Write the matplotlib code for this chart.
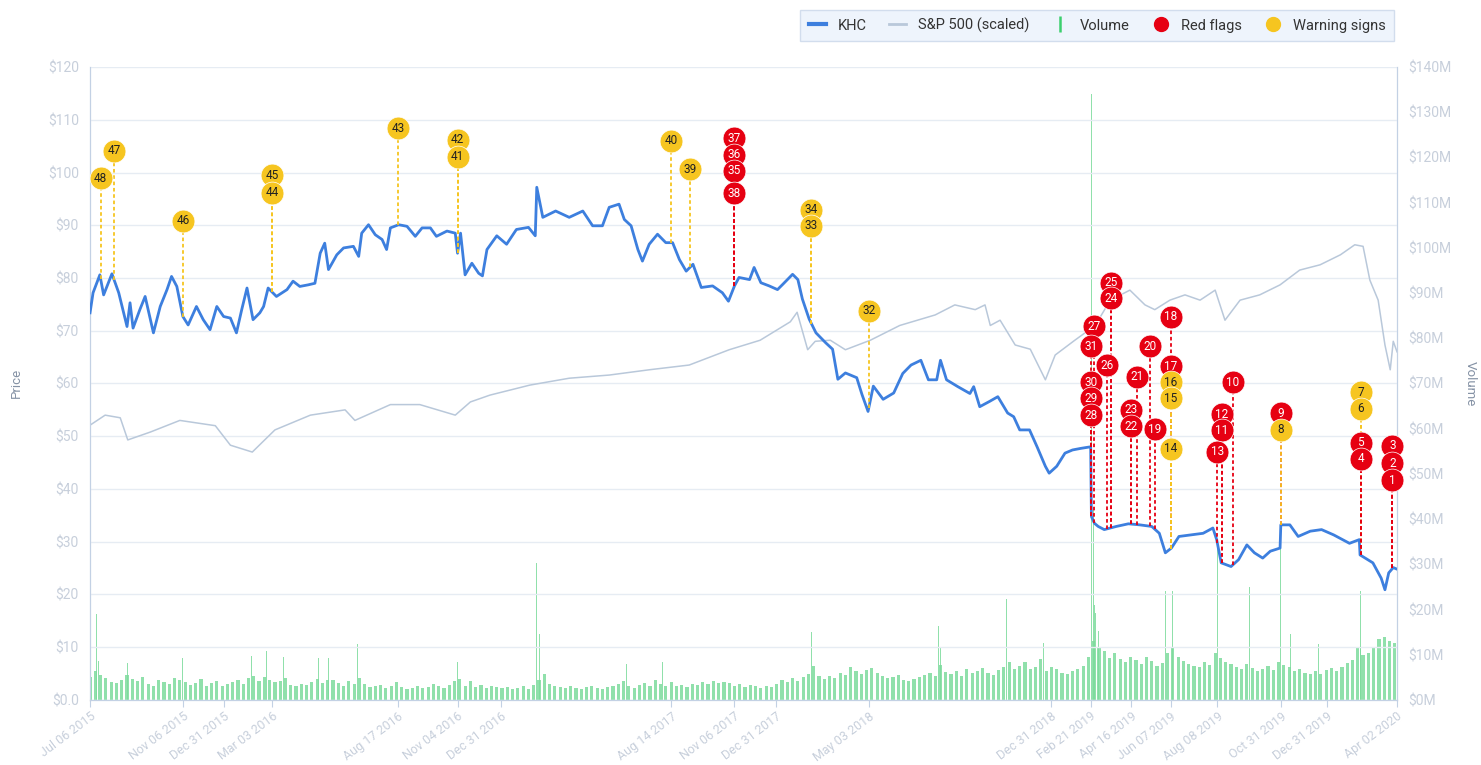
import matplotlib
matplotlib.use('Agg')
import matplotlib.pyplot as plt
import matplotlib.dates as mdates
from matplotlib.lines import Line2D
import numpy as np
import pandas as pd

plt.rcParams['font.family'] = ['Roboto', 'DejaVu Sans']

# KHC close price
khc_dates = ['2015-07-06', '2015-07-10', '2015-07-19', '2015-07-24', '2015-08-04', '2015-08-13', '2015-08-24', '2015-08-28',
             '2015-09-01', '2015-09-10', '2015-09-17', '2015-09-28', '2015-10-07', '2015-10-16', '2015-10-22', '2015-10-29',
             '2015-11-06', '2015-11-13', '2015-11-24', '2015-12-03', '2015-12-12', '2015-12-21', '2015-12-30',
             '2016-01-08', '2016-01-16', '2016-01-23', '2016-01-30', '2016-02-07', '2016-02-16', '2016-02-21', '2016-02-27',
             '2016-03-09', '2016-03-23', '2016-03-31', '2016-04-09', '2016-04-20', '2016-04-29', '2016-05-06', '2016-05-12',
             '2016-05-17', '2016-05-28', '2016-06-06', '2016-06-19', '2016-06-26', '2016-06-30', '2016-07-09', '2016-07-18',
             '2016-07-27', '2016-08-02', '2016-08-07', '2016-08-18', '2016-08-29', '2016-09-09', '2016-09-18', '2016-09-29',
             '2016-10-07', '2016-10-21', '2016-11-01', '2016-11-04', '2016-11-08', '2016-11-14', '2016-11-23', '2016-12-02',
             '2016-12-07', '2016-12-13', '2016-12-26',
             '2017-01-08', '2017-01-21', '2017-02-06', '2017-02-15', '2017-02-17', '2017-02-25', '2017-03-14', '2017-04-01',
             '2017-04-19', '2017-05-02', '2017-05-15', '2017-05-24', '2017-06-06', '2017-06-13', '2017-06-22', '2017-07-01',
             '2017-07-07', '2017-07-16', '2017-07-27', '2017-08-07', '2017-08-16', '2017-08-25', '2017-09-03', '2017-09-12',
             '2017-09-23', '2017-10-08', '2017-10-21', '2017-10-29', '2017-11-06', '2017-11-12', '2017-11-26', '2017-12-02',
             '2017-12-11', '2017-12-22',
             '2018-01-02', '2018-01-09', '2018-01-22', '2018-01-29', '2018-02-04', '2018-02-13', '2018-02-22', '2018-03-07',
             '2018-03-16', '2018-03-23', '2018-04-02', '2018-04-17', '2018-04-24', '2018-05-02', '2018-05-09', '2018-05-22',
             '2018-06-05', '2018-06-17', '2018-06-28', '2018-07-11', '2018-07-21', '2018-08-01', '2018-08-06', '2018-08-14',
             '2018-08-29', '2018-09-14', '2018-09-19', '2018-09-27', '2018-10-10', '2018-10-21', '2018-11-03', '2018-11-11',
             '2018-11-19', '2018-12-02', '2018-12-12', '2018-12-23', '2018-12-28',
             '2019-01-07', '2019-01-18', '2019-01-28', '2019-02-08', '2019-02-21', '2019-02-22', '2019-02-26', '2019-03-03',
             '2019-03-11', '2019-03-27', '2019-04-12', '2019-04-27', '2019-05-13', '2019-05-23', '2019-05-31', '2019-06-08',
             '2019-06-18', '2019-07-04', '2019-07-20', '2019-08-02', '2019-08-07', '2019-08-13', '2019-08-26', '2019-09-05',
             '2019-09-16', '2019-09-26', '2019-10-07', '2019-10-17', '2019-10-30', '2019-10-31', '2019-11-12', '2019-11-23',
             '2019-12-09', '2019-12-24',
             '2020-01-09', '2020-01-30', '2020-02-12', '2020-02-13', '2020-03-01', '2020-03-12', '2020-03-17', '2020-03-22',
             '2020-03-28', '2020-04-02']
khc_price = [73.4, 77.2, 80.6, 76.8, 80.8, 77.2, 70.8, 75.3,
             70.5, 74.0, 76.5, 69.6, 74.6, 77.8, 80.3, 78.4,
             72.7, 71.1, 74.6, 72.1, 70.2, 74.6, 72.7,
             72.4, 69.6, 74.0, 78.1, 72.1, 73.4, 74.6, 78.1,
             76.5, 77.8, 79.4, 78.4, 78.7, 79.0, 84.7, 86.6,
             81.6, 84.4, 85.7, 86.0, 84.1, 88.5, 90.1, 88.2,
             87.3, 85.4, 89.5, 90.1, 89.8, 87.9, 89.5, 89.5,
             87.9, 88.9, 88.5, 84.7, 88.5, 80.6, 82.8, 80.9,
             80.4, 85.4, 88.0,
             86.4, 89.2, 89.6, 88.0, 97.2, 91.5, 92.7, 91.5,
             92.7, 89.9, 89.9, 93.4, 94.0, 91.1, 89.9, 85.4,
             83.2, 86.4, 88.3, 86.7, 86.7, 83.5, 81.3, 82.6,
             78.2, 78.5, 77.2, 75.6, 78.5, 80.1, 79.7, 82.0,
             79.1, 78.5,
             77.8, 78.8, 80.7, 79.7, 76.0, 72.2, 69.6, 67.7,
             66.5, 60.8, 62.0, 61.1, 57.9, 54.7, 59.5, 57.0,
             58.2, 61.9, 63.5, 64.4, 60.7, 60.7, 64.4, 60.7,
             59.4, 58.1, 59.4, 55.6, 56.6, 57.5, 54.4, 53.7,
             51.2, 51.2, 48.0, 44.3, 43.0,
             44.3, 46.8, 47.4, 47.7, 48.0, 34.8, 33.5, 32.9,
             32.3, 32.9, 33.4, 33.2, 32.9, 31.6, 27.9, 28.8,
             31.0, 31.3, 31.6, 32.6, 30.4, 26.0, 25.3, 26.6,
             29.4, 27.9, 26.9, 28.2, 28.8, 33.2, 33.2, 31.0,
             32.0, 32.3,
             31.3, 29.7, 30.4, 27.5, 26.0, 23.1, 20.9, 24.1,
             25.1, 24.8]

# S&P 500, scaled onto the price axis
sp_dates = ['2015-07-06', '2015-07-26', '2015-08-15', '2015-08-25', '2015-09-24', '2015-11-02', '2015-12-19',
            '2016-01-08', '2016-02-06', '2016-03-07', '2016-04-23', '2016-06-08', '2016-06-21', '2016-08-07',
            '2016-09-15', '2016-11-01', '2016-11-21', '2016-12-17', '2017-02-08', '2017-04-01', '2017-05-24',
            '2017-07-16', '2017-09-07', '2017-10-30', '2017-12-10', '2018-01-19', '2018-01-28', '2018-02-11',
            '2018-02-21', '2018-03-13', '2018-04-02', '2018-05-05', '2018-06-13', '2018-07-30', '2018-08-25',
            '2018-09-21', '2018-10-04', '2018-10-11', '2018-10-24', '2018-11-13', '2018-12-03', '2018-12-23',
            '2019-01-05', '2019-01-31', '2019-02-27', '2019-03-19', '2019-04-14', '2019-05-04', '2019-05-17',
            '2019-06-06', '2019-06-26', '2019-07-16', '2019-08-05', '2019-08-18', '2019-09-07', '2019-10-03',
            '2019-10-30', '2019-11-25', '2019-12-22', '2020-01-18', '2020-02-06', '2020-02-17', '2020-02-26',
            '2020-03-08', '2020-03-17', '2020-03-24', '2020-03-28', '2020-04-02']
sp_price = [52.1, 54.0, 53.5, 49.3, 50.8, 53.0, 52.0,
            48.3, 47.0, 51.2, 54.0, 55.0, 53.0, 56.0,
            56.0, 54.0, 56.5, 57.8, 59.7, 61.0, 61.6,
            62.6, 63.5, 66.4, 68.2, 71.7, 73.5, 66.4,
            68.0, 68.2, 66.4, 68.2, 71.0, 73.0, 74.9,
            74.0, 74.9, 71.0, 72.0, 67.3, 66.5, 60.7,
            65.4, 68.2, 71.0, 75.8, 77.7, 74.9, 74.0,
            75.8, 76.8, 75.8, 77.7, 72.0, 75.8, 76.8,
            78.7, 81.5, 82.5, 84.4, 86.3, 86.0, 79.6,
            75.8, 67.3, 62.6, 68.0, 66.0]

# volume ($M): typical daily level each week, starting week of Jul 06 2015
vol_week = [5.0, 6.5, 5.5, 4.8, 4.0, 3.8, 4.5, 5.5, 4.6, 4.1, 5.0, 3.6, 3.2, 4.4, 3.9, 3.5, 4.8, 4.5, 4.0, 3.3,
            3.7, 4.6, 3.1, 3.8, 4.2, 3.0,
            3.5, 3.9, 4.4, 3.6, 4.8, 5.2, 4.1, 5.0, 4.5, 3.9, 4.2, 4.8, 3.4, 3.0, 3.6, 3.3, 4.0, 4.6, 3.8, 4.4,
            4.5, 3.7, 3.2, 4.1, 3.5, 4.8, 3.6, 2.8, 3.1, 3.4, 2.6, 3.0, 3.9, 2.9, 2.5, 2.7, 3.2, 2.6, 2.8, 3.6,
            3.0, 2.7, 3.4, 4.2, 4.6, 3.2, 4.1, 2.9, 3.3, 2.6, 3.0, 2.8,
            2.6, 2.9, 2.4, 2.7, 3.0, 2.5, 3.3, 4.5, 5.8, 3.6, 3.1, 2.8, 2.6, 3.0, 2.7, 2.5, 2.9, 3.2, 2.6, 2.4,
            2.8, 3.1, 3.5, 4.2, 3.0, 2.7, 3.4, 3.8, 3.1, 4.4, 3.6, 3.2, 3.9, 3.0, 3.4, 2.9, 3.6, 3.3, 4.0, 3.5,
            4.3, 3.7, 4.0, 3.8, 3.2, 3.5, 2.9, 3.4, 3.1, 2.7, 3.0, 2.8,
            3.6, 4.4, 4.0, 4.8, 4.2, 5.0, 5.8, 7.5, 5.2, 4.6, 5.4, 4.9, 6.0, 5.5, 7.2, 6.4, 5.8, 6.6, 7.0, 5.9,
            5.2, 4.8, 5.0, 5.6, 4.5, 4.3,
            4.6, 5.0, 5.6, 6.0, 5.4, 7.8, 6.2, 5.8, 6.5, 5.4, 6.8, 5.9, 6.3, 7.1, 6.0, 5.5, 6.7, 7.4, 8.5, 6.8,
            7.6, 8.3, 6.9, 7.3, 9.0, 6.5, 7.2, 6.8, 6.0, 5.8, 6.4, 6.9, 7.6,
            9.5, 13.0, 11.5, 10.8, 9.2, 10.5, 9.0, 8.5, 9.6, 8.8, 7.9, 9.4, 8.6, 7.5, 8.2, 10.5, 11.8, 9.6, 8.7, 8.0,
            7.6, 7.2, 8.4, 7.8, 10.5, 9.2, 8.5,
            8.0, 7.4, 6.8, 7.9, 7.0, 6.4, 6.9, 7.5, 6.6, 8.4, 7.8, 7.2, 6.5, 6.8, 6.0, 5.7, 6.3, 5.8, 6.6, 7.0,
            6.5, 7.4, 8.2, 8.8,
            11.5, 10.0, 10.5, 11.5, 13.5, 14.0, 13.0, 12.5]

# single-day volume spikes ($M)
spike_dates = ['2015-07-14', '2015-07-17', '2015-08-24', '2015-11-06', '2016-02-05', '2016-02-25', '2016-03-18',
               '2016-05-04', '2016-05-17', '2016-06-24', '2016-11-04', '2017-02-17', '2017-02-21', '2017-06-16',
               '2017-08-03', '2018-02-16', '2018-08-03', '2018-08-06', '2018-11-02', '2018-12-21', '2019-02-22',
               '2019-02-25', '2019-02-26', '2019-02-27', '2019-03-04', '2019-05-31', '2019-06-10', '2019-08-08',
               '2019-09-20', '2019-10-31', '2019-11-13', '2019-12-20', '2020-02-13', '2020-02-14']
spike_vol = [19.0, 8.6, 8.2, 9.2, 9.8, 10.8, 9.5,
             9.2, 9.2, 12.3, 8.3, 30.3, 14.6, 7.9,
             8.4, 15.0, 16.4, 11.4, 22.3, 12.7, 134.0,
             42.0, 21.0, 19.3, 15.3, 24.0, 24.0, 34.0,
             25.0, 39.0, 14.7, 12.4, 24.0, 12.0]

# numbered events: 'r' = red flag, 'w' = warning sign; event_y = bubble height on price axis
event_num = [48, 47, 46, 45, 44, 43, 42, 41, 40, 39, 38, 37, 36, 35, 34, 33, 32,
             31, 30, 29, 28, 27, 26, 25, 24, 23, 22, 21, 20, 19, 18, 17, 16, 15, 14,
             13, 12, 11, 10, 9, 8, 7, 6, 5, 4, 3, 2, 1]
event_date = ['2015-07-20', '2015-08-07', '2015-11-06', '2016-03-03', '2016-03-03', '2016-08-17', '2016-11-04',
              '2016-11-04', '2017-08-14', '2017-09-08', '2017-11-06', '2017-11-06', '2017-11-06', '2017-11-06',
              '2018-02-16', '2018-02-16', '2018-05-03',
              '2019-02-21', '2019-02-22', '2019-02-22', '2019-02-22', '2019-02-26', '2019-03-15', '2019-03-20',
              '2019-03-20', '2019-04-16', '2019-04-16', '2019-04-24', '2019-05-10', '2019-05-17', '2019-06-07',
              '2019-06-07', '2019-06-07', '2019-06-07', '2019-06-07',
              '2019-08-08', '2019-08-14', '2019-08-14', '2019-08-28', '2019-10-31', '2019-10-31', '2020-02-14',
              '2020-02-14', '2020-02-14', '2020-02-14', '2020-03-27', '2020-03-27', '2020-03-27']
event_kind = ['w', 'w', 'w', 'w', 'w', 'w', 'w', 'w', 'w', 'w', 'r', 'r', 'r', 'r', 'w', 'w', 'w',
              'r', 'r', 'r', 'r', 'r', 'r', 'r', 'r', 'r', 'r', 'r', 'r', 'r', 'r', 'r', 'w', 'w', 'w',
              'r', 'r', 'r', 'r', 'r', 'w', 'w', 'w', 'r', 'r', 'r', 'r', 'r']
event_y = [98.9, 104.1, 90.9, 99.5, 96.2, 108.4, 106.2, 103.0, 106.0, 100.6, 96.1, 106.5, 103.4, 100.3, 92.9, 89.9, 73.8,
           67.1, 60.2, 57.2, 54.0, 70.9, 63.5, 79.1, 76.2, 55.0, 51.9, 61.3, 67.1, 51.3, 72.7, 63.3, 60.2, 57.2, 47.6,
           47.1, 54.2, 51.1, 60.2, 54.4, 51.2, 58.3, 55.2, 48.8, 45.7, 48.2, 44.9, 41.7]

tick_dates = ['2015-07-06', '2015-11-06', '2015-12-31', '2016-03-03', '2016-08-17', '2016-11-04', '2016-12-31',
              '2017-08-14', '2017-11-06', '2017-12-31', '2018-05-03', '2018-12-31', '2019-02-21', '2019-04-16',
              '2019-06-07', '2019-08-08', '2019-10-31', '2019-12-31', '2020-04-02']

khc_color = '#3d7fde'
sp_color = '#b9c8da'
vol_color = '#7ddb9c'
red = '#e60012'
yellow = '#f6c520'
axis_color = '#c3d1e4'
tick_color = '#c7cfdb'
grid_color = '#e6ecf3'

fig = plt.figure(figsize=(14.81, 7.65), dpi=100)
ax = fig.add_axes([0.0608, 0.085, 0.8825, 0.8274])
ax2 = ax.twinx()
ax.set_zorder(ax2.get_zorder() + 1)
ax.patch.set_visible(False)

# volume on the right axis
wk = pd.date_range('2015-07-06', periods=len(vol_week), freq='7D')
ax2.bar(wk, vol_week, width=4.2, color=vol_color, alpha=0.85, linewidth=0)
ax2.bar(pd.to_datetime(spike_dates), spike_vol, width=1.3, color=vol_color, alpha=0.85, linewidth=0)
ax2.set_ylim(0, 140)
ax2.set_yticks(range(0, 150, 10))
ax2.set_yticklabels(['$%dM' % v for v in range(0, 150, 10)])

# prices
kd = pd.to_datetime(khc_dates)
ax.plot(pd.to_datetime(sp_dates), sp_price, color=sp_color, lw=1.1, zorder=2)
ax.plot(kd, khc_price, color=khc_color, lw=2.0, zorder=3)

# events
ed = pd.to_datetime(event_date)
price_at = np.interp(mdates.date2num(ed), mdates.date2num(kd), khc_price)
for i in range(len(event_num)):
    col = red if event_kind[i] == 'r' else yellow
    ax.plot([ed[i], ed[i]], [price_at[i], event_y[i]], color=col, lw=1.3,
            ls=(0, (2, 1.5)), zorder=4)
order = np.argsort(event_y)[::-1]
for i in order:
    col = red if event_kind[i] == 'r' else yellow
    tcol = 'white' if event_kind[i] == 'r' else '#222222'
    ax.scatter([ed[i]], [event_y[i]], s=270, color=col, edgecolors='white', linewidths=0.5,
               zorder=5, clip_on=False)
    ax.text(ed[i], event_y[i], str(event_num[i]), ha='center', va='center',
            fontsize=8.5, color=tcol, zorder=6, clip_on=False)

ax.set_xlim(pd.Timestamp('2015-07-06'), pd.Timestamp('2020-04-02'))
ax.set_ylim(0, 120)
ax.set_yticks(range(0, 130, 10))
ax.set_yticklabels(['$0.0'] + ['$%d' % v for v in range(10, 130, 10)])
ax.yaxis.grid(True, color=grid_color, lw=1)
ax.set_axisbelow(True)

ax.set_xticks(pd.to_datetime(tick_dates))
ax.xaxis.set_major_formatter(mdates.DateFormatter('%b %d %Y'))
for lab in ax.get_xticklabels():
    lab.set_rotation(37)
    lab.set_ha('right')
    lab.set_rotation_mode('anchor')

for a in (ax, ax2):
    for s in a.spines.values():
        s.set_color(axis_color)
    a.spines['top'].set_visible(False)
ax.tick_params(axis='x', colors=axis_color, labelcolor=tick_color, labelsize=9, length=5, pad=2)
ax.tick_params(axis='y', length=0, labelcolor=tick_color, labelsize=10, pad=8)
ax2.tick_params(axis='y', length=0, labelcolor=tick_color, labelsize=10, pad=8)

fig.text(0.011, 0.499, 'Price', rotation=90, va='center', ha='center', color='#8592a5', fontsize=9.5)
fig.text(0.993, 0.499, 'Volume', rotation=270, va='center', ha='center', color='#8592a5', fontsize=9.5)

handles = [Line2D([], [], color=khc_color, lw=3),
           Line2D([], [], color=sp_color, lw=2),
           Line2D([], [], color='#3ccf6e', marker='|', ls='none', markersize=11, mew=1.8),
           Line2D([], [], color=red, marker='o', ls='none', markersize=10),
           Line2D([], [], color=yellow, marker='o', ls='none', markersize=10)]
labels = ['KHC', 'S&P 500 (scaled)', 'Volume', 'Red flags', 'Warning signs']
leg = fig.legend(handles, labels, loc='upper right', bbox_to_anchor=(0.946, 0.997), ncol=5,
                 fontsize=10.5, handlelength=1.2, handletextpad=0.8, columnspacing=1.5,
                 borderpad=0.55, fancybox=False, frameon=True)
leg.get_frame().set_facecolor('#eaf2fc')
leg.get_frame().set_edgecolor('#c9d7ea')
for t in leg.get_texts():
    t.set_color('#333333')

fig.savefig('out.png', dpi=100)
